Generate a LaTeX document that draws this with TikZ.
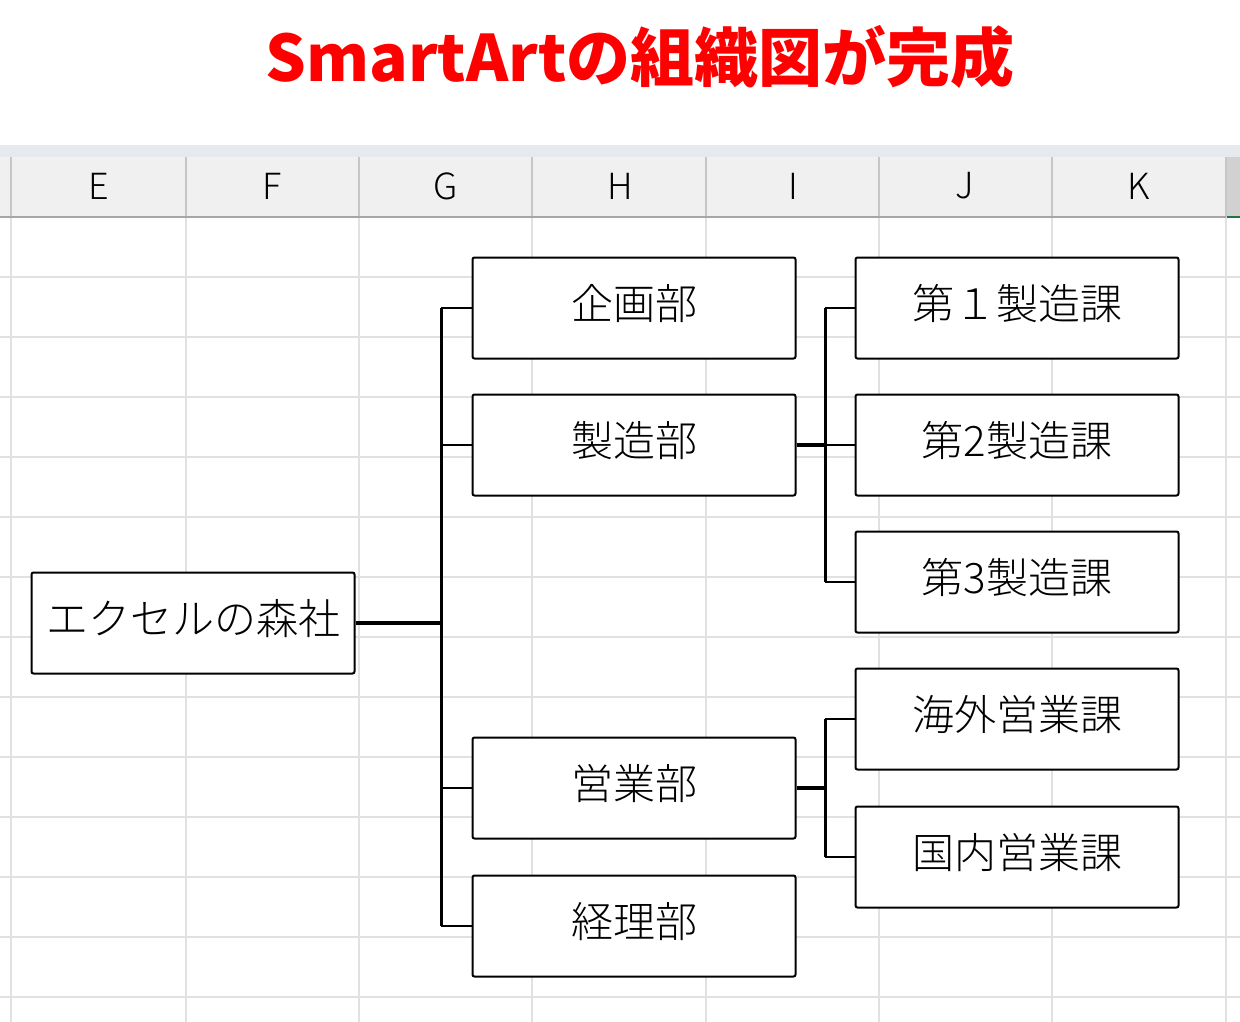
\documentclass[tikz,border=0pt]{standalone}
\usepackage{fontspec}
\setmainfont{Noto Sans CJK JP}
\newfontfamily\lightjp{Noto Sans CJK JP Light}
\usepackage{tikz}
\usetikzlibrary{positioning}
\definecolor{titlered}{HTML}{FF0000}
\definecolor{gridgray}{HTML}{E1E1E1}
\definecolor{headgray}{HTML}{F0F0F0}
\definecolor{bandgray}{HTML}{E6E9EE}
\definecolor{sepgray}{HTML}{C6C6C6}
\definecolor{xlgreen}{HTML}{217346}
\newcommand{\boxfont}{\lightjp\fontsize{42}{48}\selectfont}

\begin{document}
\begin{tikzpicture}[x=1pt,y=-1pt,
	org/.style={draw,line width=2pt,rounded corners=2pt,fill=white,minimum width=323pt,minimum height=101pt,inner sep=0pt,text height=37pt,text depth=15pt,font=\boxfont},
	link/.style={line width=2.5pt},
	collabel/.style={font=\lightjp\fontsize{36}{40}\selectfont}]
	\useasboundingbox (0,0) rectangle (1240,1022);
	% sheet
	\fill[bandgray] (0,145) rectangle (1240,157);
	\fill[headgray] (0,157) rectangle (1226,217);
	\fill[black!18] (1226,157) rectangle (1240,217);
	\foreach \y in {277,337,...,997}
		\draw[gridgray,line width=1.5pt] (0,\y) -- (1240,\y);
	\foreach \x in {11,186,359,532,706,879,1052,1226}
	{
		\draw[gridgray,line width=1.5pt] (\x,217) -- (\x,1022);
		\draw[sepgray,line width=1.5pt] (\x,157) -- (\x,217);
	}
	\draw[black!35,line width=2.5pt] (0,217) -- (1226,217);
	\draw[xlgreen,line width=2.5pt] (1227,217) -- (1240,217);
	\foreach \c/\x in {E/99,F/272,G/446,H/620,I/793,J/965,K/1139}
		\node[collabel] (col\c) at (\x,186) {\c};
	% title
	\node[font=\fontsize{64}{72}\selectfont\bfseries,text=titlered] (title) at (640,57) {SmartArtの組織図が完成};
	% chart
	\node[org] (root) at (193,623) {エクセルの森社};
	\node[org] (kikaku) at (634,308) {企画部};
	\node[org] (seizo) at (634,445) {製造部};
	\node[org] (eigyo) at (634,788) {営業部};
	\node[org] (keiri) at (634,926) {経理部};
	\node[org] (ka1) at (1017,308) {第１製造課};
	\node[org] (ka2) at (1017,445) {第2製造課};
	\node[org] (ka3) at (1017,582) {第3製造課};
	\node[org] (kaigai) at (1017,719) {海外営業課};
	\node[org] (kokunai) at (1017,857) {国内営業課};
	\coordinate (hub) at (441,623);
	\coordinate (hubb) at (825,445);
	\draw[line width=4pt] (root.east) -- (hub);
	\draw[line width=3pt] (kikaku.west -| hub) -- (keiri.west -| hub);
	\foreach \b in {kikaku,seizo,eigyo,keiri}
		\draw[link] (\b.west -| hub) -- (\b.west);
	\draw[line width=4pt] (seizo.east) -- (seizo.east -| hubb);
	\draw[line width=3pt] (ka1.west -| hubb) -- (ka3.west -| hubb);
	\draw[line width=4pt] (eigyo.east) -- (eigyo.east -| hubb);
	\draw[line width=3pt] (kaigai.west -| hubb) -- (kokunai.west -| hubb);
	\foreach \b in {ka1,ka2,ka3,kaigai,kokunai}
		\draw[link] (\b.west -| hubb) -- (\b.west);
\end{tikzpicture}
\end{document}
